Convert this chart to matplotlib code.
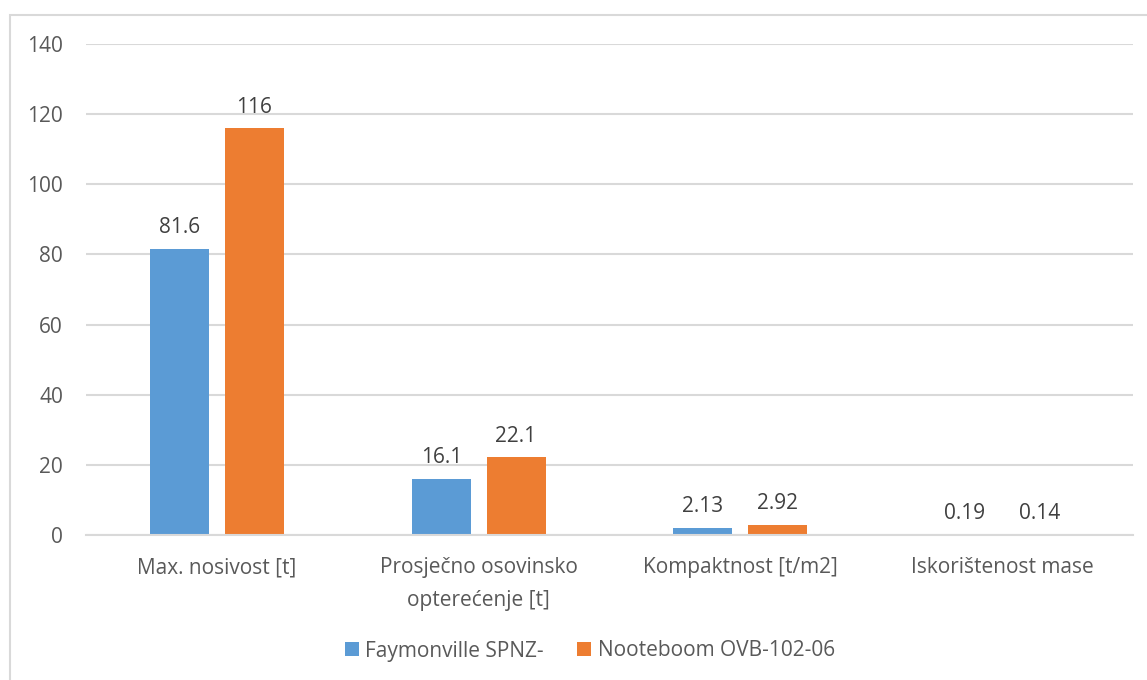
import matplotlib
matplotlib.use("Agg")
import matplotlib.pyplot as plt
from matplotlib.patches import Rectangle
import numpy as np

categories = ["Max. nosivost [t]", "Prosječno osovinsko\nopterećenje [t]",
              "Kompaktnost [t/m2]", "Iskorištenost mase"]
series_names = ["Faymonville SPNZ-", "Nooteboom OVB-102-06"]
faymonville = [81.6, 16.1, 2.13, 0.19]
nooteboom = [116, 22.1, 2.92, 0.14]
labels_f = ["81.6", "16.1", "2.13", "0.19"]
labels_n = ["116", "22.1", "2.92", "0.14"]
yticks = [0, 20, 40, 60, 80, 100, 120, 140]

plt.rcParams['font.family'] = ['Open Sans', 'DejaVu Sans']

FS = 15
W, H = 1147, 680
fig = plt.figure(figsize=(W / 100, H / 100), dpi=100)
ax = fig.add_axes([86 / W, 1 - 535 / H, (1133 - 86) / W, (535 - 44) / H])

blue = "#5B9BD5"
orange = "#ED7D31"
x = np.arange(len(categories))
bw = 0.225
off = 0.143
b1 = ax.bar(x - off, faymonville, bw, color=blue, label=series_names[0], zorder=3)
b2 = ax.bar(x + off, nooteboom, bw, color=orange, label=series_names[1], zorder=3)

for bars, labs in ((b1, labels_f), (b2, labels_n)):
    for rect, lab in zip(bars, labs):
        ax.annotate(lab, (rect.get_x() + rect.get_width() / 2, rect.get_height()),
                    xytext=(0, 7.5), textcoords="offset points", ha="center", va="bottom",
                    fontsize=FS, color="#404040")

ax.set_xlim(-0.5, len(categories) - 0.5)
ax.set_ylim(0, 140)
ax.set_yticks(yticks)
ax.set_yticklabels([str(v) for v in yticks])
ax.set_xticks(x)
ax.set_xticklabels(categories, linespacing=1.72)
ax.tick_params(axis="both", length=0, labelsize=FS, labelcolor="#595959")
ax.tick_params(axis="y", pad=16.5)
ax.tick_params(axis="x", pad=16)
ax.yaxis.grid(True, color="#D9D9D9", linewidth=1.5, zorder=0)
for s in ["top", "right", "left"]:
    ax.spines[s].set_visible(False)
ax.spines["bottom"].set_color("#D9D9D9")
ax.spines["bottom"].set_linewidth(1.5)
ax.spines["bottom"].set_zorder(4)

leg = fig.legend(handles=[b1, b2], labels=series_names, loc="center",
                 bbox_to_anchor=(590 / W, 1 - 651 / H), ncol=2, frameon=False,
                 fontsize=FS, handlelength=0.65, handleheight=0.65,
                 handletextpad=0.32, columnspacing=1.6)
for t in leg.get_texts():
    t.set_color("#595959")

fig.patches.append(Rectangle((9.5 / W, -0.01), (W + 5 - 9.5) / W, 1 - 14.5 / H + 0.01,
                             transform=fig.transFigure, fill=False,
                             edgecolor="#D9D9D9", linewidth=1.5))

fig.savefig("out.png", dpi=100, facecolor="white")
